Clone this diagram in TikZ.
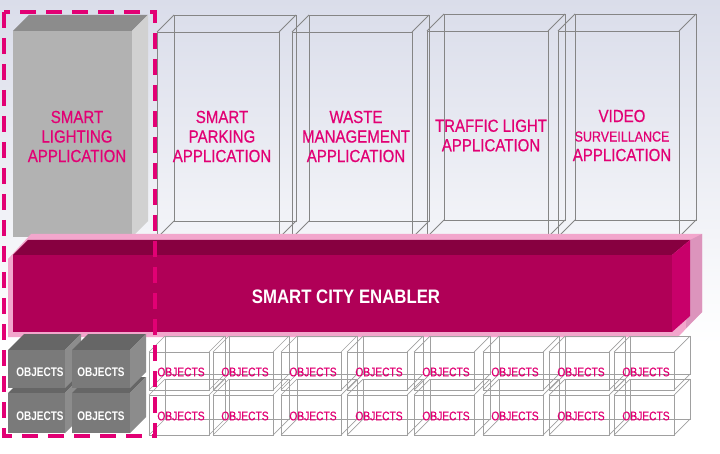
\documentclass[tikz,border=0pt]{standalone}
\usepackage{fontspec}
\newfontfamily\tele[FakeStretch=0.86,FakeBold=0.5]{Liberation Sans}
\newfontfamily\telebold[FakeStretch=0.86]{Liberation Sans Bold}
\newfontfamily\teleobj[FakeStretch=0.82,FakeBold=0.4]{Liberation Sans}
\newfontfamily\teleobjbold[FakeStretch=0.8]{Liberation Sans Bold}
\definecolor{tmag}{HTML}{E20074}
\definecolor{bgtop}{HTML}{DADDEA}
\definecolor{enfront}{HTML}{B00057}
\definecolor{entop}{HTML}{870040}
\definecolor{enside}{HTML}{C8006A}
\definecolor{palepink}{HTML}{F2A6CC}
\definecolor{paleside}{HTML}{DC94BC}
\definecolor{wirecol}{HTML}{858585}
\definecolor{owire}{HTML}{A0A0A0}
\tikzset{
  wire/.style={draw=wirecol, line width=0.8pt},
  owireline/.style={draw=owire, line width=0.7pt},
  apptext/.style={text=tmag, font=\tele\fontsize{17.5}{19.5}\selectfont, align=center, inner sep=0pt},
  objtext/.style={text=tmag, font=\teleobj\fontsize{12.5}{14}\selectfont, inner sep=0pt},
  dobjtext/.style={text=white, font=\teleobjbold\fontsize{12.5}{14}\selectfont, inner sep=0pt},
  entext/.style={text=white, font=\telebold\fontsize{19.5}{22}\selectfont, inner sep=0pt},
  selframe/.style={draw=tmag, line width=4pt, dash pattern=on 16pt off 10pt}
}
% wire box: x, y, w, h, depth, style
\newcommand\wirebox[6]{%
  \begin{scope}[shift={(#1,#2)}]
    \draw[#6] (0,0) rectangle (#3,#4);
    \draw[#6] (#5,-#5) rectangle (#3+#5,#4-#5);
    \draw[#6] (0,0) -- (#5,-#5);
    \draw[#6] (#3,0) -- (#3+#5,-#5);
    \draw[#6] (0,#4) -- (#5,#4-#5);
    \draw[#6] (#3,#4) -- (#3+#5,#4-#5);
  \end{scope}}
% solid box: x, y, w, h, depth, front, top, side
\newcommand\solidbox[8]{%
  \begin{scope}[shift={(#1,#2)}]
    \fill[#7] (0,0) -- (#5,-#5) -- (#3+#5,-#5) -- (#3,0) -- cycle;
    \fill[#8] (#3,0) -- (#3+#5,-#5) -- (#3+#5,#4-#5) -- (#3,#4) -- cycle;
    \fill[#6] (0,0) rectangle (#3,#4);
  \end{scope}}
\begin{document}
\begin{tikzpicture}[x=1pt,y=-1pt]
\useasboundingbox (0,0) rectangle (720,454);
% background
\shade[top color=bgtop, bottom color=white] (0,0) rectangle (720,345);
\fill[white] (0,345) rectangle (720,454);

% application boxes (transparent)
\wirebox{157}{32}{122}{206}{17}{wire}
\wirebox{292}{32}{120}{206}{17}{wire}
\wirebox{427}{31}{121}{206}{17}{wire}
\wirebox{558}{31}{121}{206}{17}{wire}

% smart lighting box (solid)
\solidbox{13}{31}{119}{206}{16}{black!30}{black!45}{black!18}

% pale pink halo behind enabler
\fill[palepink] (8,337) -- (8,259) -- (31,234) -- (702,234) -- (702,312) -- (678,337) -- cycle;
\fill[paleside] (690,240) -- (702,234) -- (702,312) -- (686,328) -- cycle;

% smart city enabler
\fill[entop] (13,255) -- (28,240) -- (690,240) -- (672,255) -- cycle;
\fill[enside] (672,255) -- (690,240) -- (690,316) -- (672,332) -- cycle;
\fill[enfront] (13,255) rectangle (672,332);

% labels of applications
\node[apptext] (lighting) at (77,136.5) {SMART\\LIGHTING\\APPLICATION};
\node[apptext] (parking) at (222,136.5) {SMART\\PARKING\\APPLICATION};
\node[apptext] (waste) at (356,136.5) {WASTE\\MANAGEMENT\\APPLICATION};
\node[apptext] (traffic) at (491,135.5) {TRAFFIC LIGHT\\APPLICATION};
\node[apptext] (video) at (622,135.5) {VIDEO\\{\fontsize{14.5}{18}\selectfont SURVEILLANCE}\\APPLICATION};
\node[entext] (enabler) at (346,297) {SMART CITY ENABLER};

% dark object cubes
\solidbox{8}{393}{57}{40}{16}{black!52}{black!60}{black!45}
\solidbox{72}{393}{58}{40}{16}{black!52}{black!60}{black!45}
\solidbox{8}{350}{57}{38}{16}{black!52}{black!60}{black!45}
\solidbox{72}{350}{58}{38}{16}{black!52}{black!60}{black!45}
\node[dobjtext] (d11) at (40,372) {OBJECTS};
\node[dobjtext] (d12) at (101,372) {OBJECTS};
\node[dobjtext] (d21) at (40,416) {OBJECTS};
\node[dobjtext] (d22) at (101,416) {OBJECTS};

% transparent object cubes
\foreach \x [count=\i] in {149,213,281,347,414,483,549,614} {
  \wirebox{\x}{352}{60}{38}{16}{owireline}
  \wirebox{\x}{395}{60}{40}{16}{owireline}
  \node[objtext] (o1-\i) at (\x+32,372) {OBJECTS};
  \node[objtext] (o2-\i) at (\x+32,416) {OBJECTS};
}

% selection frame
\draw[selframe] (4,12) rectangle (155,436);
\end{tikzpicture}
\end{document}
